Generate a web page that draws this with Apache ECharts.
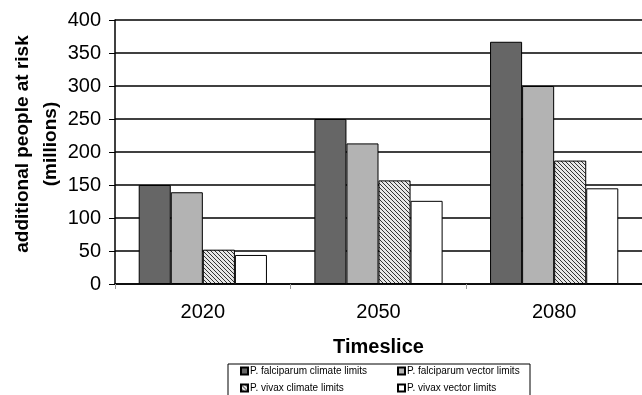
<!DOCTYPE html>
<html>
<head>
<meta charset="utf-8">
<script src="https://cdn.jsdelivr.net/npm/echarts@6/dist/echarts.min.js"></script>
<style>
  html, body { margin: 0; padding: 0; background: #fff; }
  #chart { width: 642px; height: 395px; }
</style>
</head>
<body>
<div id="chart"></div>
<script>
const timeslices = ['2020', '2050', '2080']
const falciparumClimate = [150, 250, 367]
const falciparumVector = [139, 213, 300]
const vivaxClimate = [52, 157, 187]
const vivaxVector = [44, 126, 145]
const yTicks = [0, 50, 100, 150, 200, 250, 300, 350, 400]

// diagonal hatch for the vivax climate bars
function hatch() {
  const c = document.createElement('canvas')
  c.width = 4
  c.height = 4
  const ctx = c.getContext('2d')
  ctx.fillStyle = '#e6e6e6'
  ctx.fillRect(0, 0, 4, 4)
  ctx.fillStyle = '#333'
  for (let i = 0; i < 4; i++) {
    ctx.fillRect(i, i, 1, 1)
  }
  return c
}

const font = 'Liberation Sans, Arial, sans-serif'
const chart = echarts.init(document.getElementById('chart'))

function bar(name, data, color) {
  return {
    name: name,
    type: 'bar',
    data: data,
    barGap: '0%',
    barCategoryGap: '27%',
    animation: false,
    itemStyle: {
      color: color,
      borderColor: '#000',
      borderWidth: 1
    }
  }
}

function legendCol(left, names) {
  return {
    orient: 'vertical',
    left: left,
    top: 365,
    padding: 0,
    icon: 'rect',
    itemWidth: 7,
    itemHeight: 7,
    itemGap: 5,
    textStyle: { fontSize: 10, lineHeight: 12, color: '#000', padding: [0, 0, 0, -3] },
    data: names
  }
}

chart.setOption({
  backgroundColor: '#fff',
  textStyle: { fontFamily: font },
  grid: { left: 115, right: -1, top: 20, bottom: 111 },
  xAxis: {
    type: 'category',
    data: timeslices,
    name: 'Timeslice',
    nameLocation: 'middle',
    nameGap: 53,
    nameTextStyle: { fontSize: 20, fontWeight: 'bold', color: '#000' },
    axisLine: { lineStyle: { color: '#000', width: 1.5 } },
    axisTick: { show: true, length: 5, lineStyle: { color: '#999' } },
    axisLabel: { fontSize: 20, color: '#000', margin: 18 }
  },
  yAxis: {
    type: 'value',
    min: yTicks[0],
    max: yTicks[yTicks.length - 1],
    interval: 50,
    axisLine: { show: true, lineStyle: { color: '#000', width: 1.5 } },
    axisTick: { show: true, length: 6, lineStyle: { color: '#000' } },
    axisLabel: { fontSize: 20, color: '#000', margin: 14 },
    splitLine: { lineStyle: { color: '#000', width: 1.5 } }
  },
  legend: [
    legendCol(240, ['P. falciparum climate limits', 'P. vivax climate limits']),
    legendCol(397, ['P. falciparum vector limits', 'P. vivax vector limits'])
  ],
  graphic: [{
    type: 'text',
    x: 37,
    y: 144,
    rotation: Math.PI / 2,
    style: {
      text: 'additional people at risk\n(millions)',
      font: 'bold 19px ' + font,
      lineHeight: 28,
      fill: '#000',
      align: 'center',
      verticalAlign: 'middle'
    }
  }, {
    type: 'rect',
    shape: { x: 228, y: 364, width: 302, height: 40 },
    style: { fill: 'none', stroke: '#000', lineWidth: 1 }
  }],
  series: [
    bar('P. falciparum climate limits', falciparumClimate, '#666'),
    bar('P. falciparum vector limits', falciparumVector, '#b3b3b3'),
    bar('P. vivax climate limits', vivaxClimate, { image: hatch(), repeat: 'repeat' }),
    bar('P. vivax vector limits', vivaxVector, '#fff')
  ]
})
</script>
</body>
</html>
